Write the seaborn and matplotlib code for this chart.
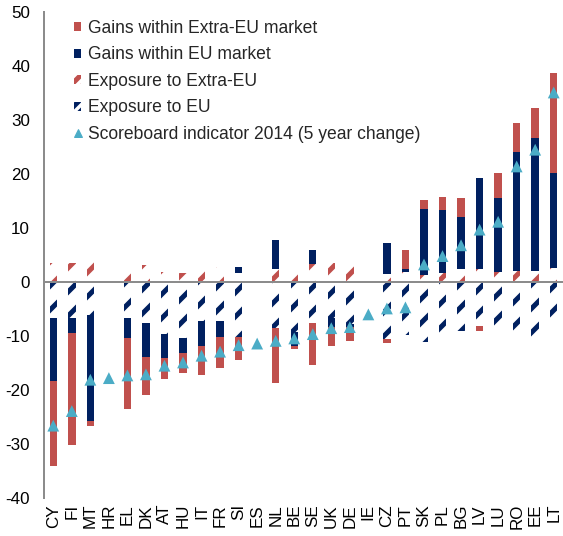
import matplotlib
matplotlib.use("Agg")
import matplotlib.pyplot as plt
from matplotlib.lines import Line2D
from matplotlib.patches import Patch
import numpy as np
import seaborn as sns

countries = ["CY", "FI", "MT", "HR", "EL", "DK", "AT", "HU", "IT", "FR", "SI", "ES", "NL", "BE",
             "SE", "UK", "DE", "IE", "CZ", "PT", "SK", "PL", "BG", "LV", "LU", "RO", "EE", "LT"]
exposure_extra_eu = [3.45, 3.45, 3.9, 0, 3.2, 3.1, 1.85, 1.6, 2.85, 2.85, 1.7, 0, 2.5, 2.15,
                     3.25, 3.6, 2.95, 0, 1.4, 1.9, 1.25, 1.6, 2.5, 2.5, 1.85, 2.1, 2.1, 2.65]
exposure_eu = [-6.6, -6.6, -6.1, 0, -6.6, -7.6, -9.65, -10.3, -7.3, -7.3, -10.1, 0, -8.55, -9.3,
               -7.5, -6.7, -7.8, 0, -10.5, -9.9, -11.2, -10.5, -9.0, -8.2, -9.0, -9.0, -10.3, -8.2]
gains_eu = [-11.8, -2.9, -19.7, 0, -3.8, -6.2, -4.45, -2.9, -4.6, -2.8, 1.15, 0, 5.2, -2.5,
            2.75, -1.6, -0.6, 0, 5.75, 0.6, 12.35, 11.8, 9.6, 16.8, 13.65, 21.9, 24.6, 17.45]
gains_extra_eu = [-15.6, -20.6, -0.8, 0, -13.1, -7.2, -3.9, -3.6, -5.3, -5.8, -4.35, 0, -10.15, -0.7,
                  -7.9, -3.6, -2.5, 0, -0.8, 3.35, 1.5, 2.35, 3.4, -0.95, 4.7, 5.5, 5.6, 18.6]
scoreboard_2014 = [-26.6, -23.9, -18.1, -17.8, -17.3, -17.1, -15.5, -14.9, -13.65, -12.9, -11.7,
                   -11.4, -10.9, -10.45, -9.65, -8.55, -8.35, -6.0, -4.9, -4.7, 3.25, 4.8, 6.8,
                   9.7, 11.15, 21.4, 24.5, 35.1]

RED = "#C0504D"
NAVY = "#002060"
TEAL = "#4BACC6"
GREY = "#8C8C8C"

sns.set_theme(style="white")
plt.rcParams["font.family"] = ["Liberation Sans", "DejaVu Sans"]
plt.rcParams["axes.unicode_minus"] = False
plt.rcParams["hatch.linewidth"] = 5

DPI = 72
fig = plt.figure(figsize=(563 / DPI, 536 / DPI), dpi=DPI)
ax = fig.add_axes([44 / 563, 38 / 536, 519 / 563, 486 / 536])

x = np.arange(len(countries))
pos_base = np.zeros(len(countries))
neg_base = np.zeros(len(countries))

# stacked like Excel: positives pile up from 0, negatives pile down from 0
series = [
    (exposure_extra_eu, dict(facecolor="white", edgecolor=RED, hatch="/")),
    (exposure_eu, dict(facecolor="white", edgecolor=NAVY, hatch="/")),
    (gains_eu, dict(facecolor=NAVY, edgecolor=NAVY)),
    (gains_extra_eu, dict(facecolor=RED, edgecolor=RED)),
]
for values, style in series:
    v = np.asarray(values, dtype=float)
    bottom = np.where(v >= 0, pos_base, neg_base)
    ax.bar(x, v, bottom=bottom, width=0.4, linewidth=0, zorder=2, **style)
    pos_base += np.clip(v, 0, None)
    neg_base += np.clip(v, None, 0)

ax.axhline(0, color=GREY, linewidth=2, zorder=3)
sns.scatterplot(x=x, y=scoreboard_2014, marker="^", s=140, color=TEAL,
                edgecolor="none", zorder=5, ax=ax, legend=False)

ax.set_xlim(-0.5, len(countries) - 0.5)
ax.set_ylim(-40, 50)
ax.set_yticks(range(-40, 51, 10))
ax.set_xticks(x)
ax.set_xticklabels(countries, rotation=90)
ax.tick_params(axis="y", length=0, pad=14, labelsize=17, colors="black")
ax.tick_params(axis="x", length=0, pad=6, labelsize=17, colors="black")

for side in ["top", "right", "bottom"]:
    ax.spines[side].set_visible(False)
ax.spines["left"].set_color(GREY)
ax.spines["left"].set_linewidth(2)

# legend swatches are tiny, so the hatched ones get a finer pattern
handles = [
    Patch(facecolor=RED, linewidth=0),
    Patch(facecolor=NAVY, linewidth=0),
    Patch(facecolor="white", edgecolor=RED, hatch="//", linewidth=0),
    Patch(facecolor="white", edgecolor=NAVY, hatch="//", linewidth=0),
    Line2D([], [], marker="^", color=TEAL, linestyle="none", markersize=8),
]
for h in handles[2:4]:
    h.set_hatch_linewidth(3)
labels = ["Gains within Extra-EU market", "Gains within EU market", "Exposure to Extra-EU",
          "Exposure to EU", "Scoreboard indicator 2014 (5 year change)"]
fig.legend(handles, labels, loc="upper left", bbox_to_anchor=(74 / 563, 1 - 20 / 536),
           bbox_transform=fig.transFigure, frameon=False, fontsize=17.5, handlelength=0.4,
           handleheight=0.4, handletextpad=0.4, labelspacing=0.54, borderpad=0,
           borderaxespad=0)

fig.savefig("out.png", dpi=DPI)
